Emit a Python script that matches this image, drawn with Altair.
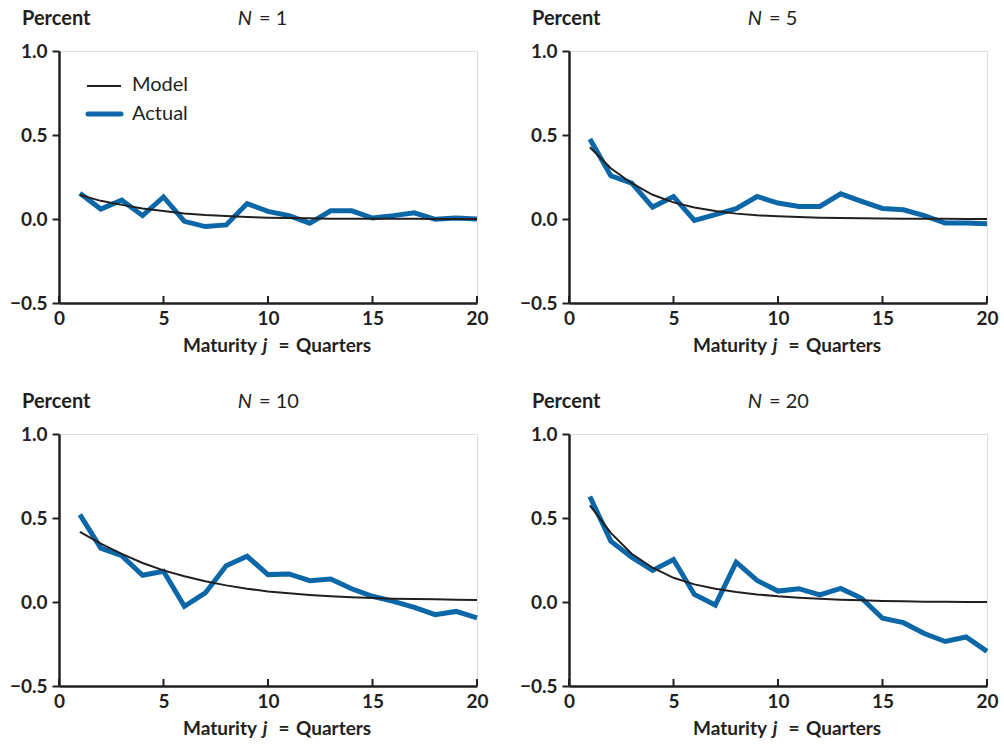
import altair as alt
import pandas as pd

maturity = list(range(1, 21))

model_n1 = [0.143, 0.108, 0.084, 0.063, 0.047, 0.033, 0.024, 0.018, 0.012, 0.008,
            0.006, 0.004, 0.002, 0.002, 0.001, 0.001, 0.001, 0.0, 0.0, 0.0]
actual_n1 = [0.153, 0.059, 0.112, 0.020, 0.131, -0.014, -0.045, -0.035, 0.092, 0.045,
             0.020, -0.025, 0.049, 0.049, 0.006, 0.020, 0.037, -0.002, 0.006, 0.0]

model_n5 = [0.427, 0.302, 0.213, 0.144, 0.099, 0.069, 0.047, 0.032, 0.022, 0.016,
            0.012, 0.008, 0.006, 0.004, 0.003, 0.002, 0.001, 0.001, 0.0, 0.0]
actual_n5 = [0.476, 0.257, 0.213, 0.071, 0.134, -0.008, 0.026, 0.061, 0.134, 0.095,
             0.075, 0.075, 0.150, 0.105, 0.063, 0.055, 0.020, -0.024, -0.024, -0.028]

model_n10 = [0.417, 0.347, 0.286, 0.232, 0.188, 0.153, 0.123, 0.099, 0.079, 0.063,
             0.052, 0.042, 0.034, 0.028, 0.024, 0.020, 0.018, 0.016, 0.014, 0.012]
actual_n10 = [0.520, 0.321, 0.276, 0.159, 0.183, -0.026, 0.054, 0.216, 0.272, 0.163,
              0.167, 0.127, 0.137, 0.079, 0.034, 0.004, -0.032, -0.075, -0.056, -0.095]

model_n20 = [0.575, 0.411, 0.287, 0.204, 0.144, 0.105, 0.079, 0.059, 0.045, 0.034,
             0.026, 0.020, 0.014, 0.010, 0.006, 0.004, 0.002, 0.002, 0.0, 0.0]
actual_n20 = [0.628, 0.362, 0.267, 0.188, 0.253, 0.045, -0.018, 0.237, 0.128, 0.065,
              0.079, 0.042, 0.081, 0.022, -0.097, -0.123, -0.188, -0.235, -0.208, -0.294]

x_ticks = [0, 5, 10, 15, 20]
y_ticks = [-0.5, 0.0, 0.5, 1.0]
panel_labels = ["1", "5", "10", "20"]

W, H = 418, 252
BLUE = "#0b67a7"
INK = "#231f20"
FONT = "Lato"

one = pd.DataFrame({"k": [0]})


def txt(s, x, y, align="left", size=19, weight="bold", style="normal"):
    return alt.Chart(one).mark_text(
        text=s, align=align, baseline="middle", font=FONT, fontSize=size,
        fontWeight=weight, fontStyle=style, color=INK
    ).encode(x=alt.value(x), y=alt.value(y))


def panel(n, model, actual, legend=False):
    df = pd.DataFrame({"j": maturity, "Model": model, "Actual": actual})
    xs = alt.Scale(domain=[0, 20], nice=False)
    ys = alt.Scale(domain=[-0.5, 1.0], nice=False)
    xaxis = alt.Axis(values=x_ticks, ticks=False, title=None, format="d", grid=False,
                     labelFont=FONT, labelFontSize=19, labelFontWeight="bold",
                     labelColor=INK, labelPadding=6, domainColor=INK, domainWidth=2.5,
                     labelFlush=False)
    yaxis = alt.Axis(values=y_ticks, title=None, format=".1f", grid=False,
                     labelFont=FONT, labelFontSize=19, labelFontWeight="bold",
                     labelColor=INK, labelPadding=5, tickSize=7, tickWidth=2,
                     tickColor=INK, domainColor=INK, domainWidth=2.5, labelFlush=False)
    base = alt.Chart(df)
    actual_line = base.mark_line(color=BLUE, strokeWidth=5).encode(
        x=alt.X("j:Q", scale=xs, axis=xaxis),
        y=alt.Y("Actual:Q", scale=ys, axis=yaxis),
    )
    model_line = base.mark_line(color=INK, strokeWidth=2).encode(
        x=alt.X("j:Q", scale=xs, axis=xaxis),
        y=alt.Y("Model:Q", scale=ys, axis=yaxis),
    )
    ticks = alt.Chart(pd.DataFrame({"j": x_ticks})).mark_rule(
        color=INK, strokeWidth=2
    ).encode(
        x=alt.X("j:Q", scale=xs, axis=xaxis),
        y=alt.value(H), y2=alt.value(H - 7),
    )
    layers = [actual_line, model_line, ticks,
              txt("Percent", -37, -32, size=20),
              txt("N", 193, -32, align="right", size=20, weight="normal", style="italic"),
              txt("= " + n, 200, -32, size=20, weight="normal"),
              txt("Maturity", 198, H + 43, align="right"),
              txt("j", 206, H + 43, align="center", style="italic"),
              txt("=", 225, H + 43, align="center"),
              txt("Quarters", 237, H + 43)]
    if legend:
        layers += [
            alt.Chart(one).mark_rule(color=INK, strokeWidth=2).encode(
                x=alt.value(28), x2=alt.value(62), y=alt.value(35)),
            alt.Chart(one).mark_rule(color=BLUE, strokeWidth=5, strokeCap="round").encode(
                x=alt.value(29), x2=alt.value(62), y=alt.value(63)),
            txt("Model", 73, 34, size=20, weight="normal"),
            txt("Actual", 73, 63, size=20, weight="normal"),
        ]
    return alt.layer(*layers).properties(width=W, height=H)


p1 = panel(panel_labels[0], model_n1, actual_n1, legend=True)
p2 = panel(panel_labels[1], model_n5, actual_n5)
p3 = panel(panel_labels[2], model_n10, actual_n10)
p4 = panel(panel_labels[3], model_n20, actual_n20)

chart = alt.concat(
    p1, p2, p3, p4, columns=2,
    spacing=alt.RowColnumber(row=131, column=92), bounds="flush",
).properties(
    padding={"left": 8, "top": 8, "right": 5, "bottom": 5}
).configure_view(stroke=None).configure(background="white")

chart.save("out.html", embed_options={"renderer": "svg", "actions": False})
